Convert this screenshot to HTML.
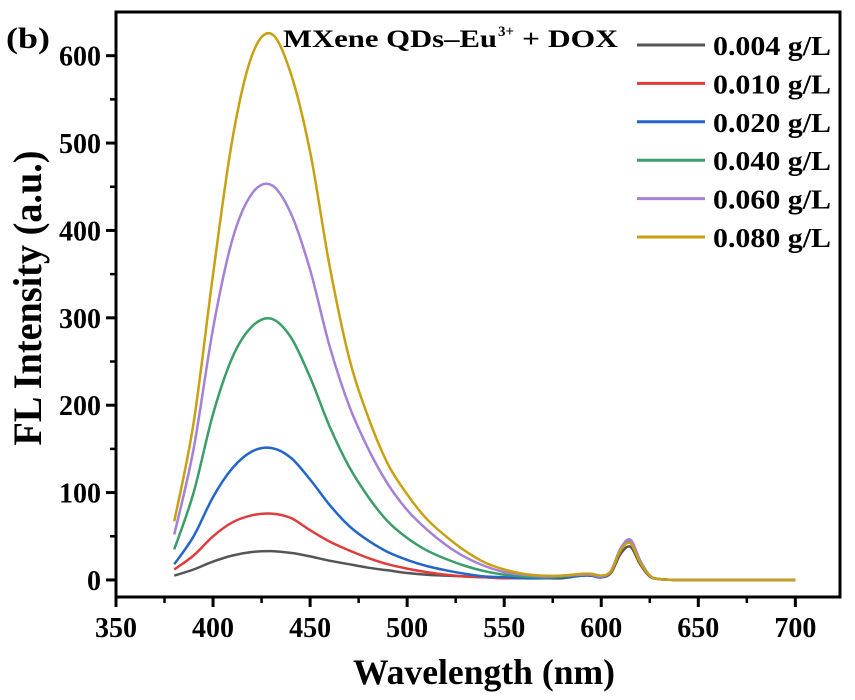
<!DOCTYPE html>
<html><head><meta charset="utf-8"><style>
body{margin:0;background:#fff;}
svg text{font-family:"Liberation Serif",serif;font-weight:bold;fill:#000;}
</style></head><body>
<svg id="chart" width="855" height="695" viewBox="0 0 855 695" xmlns="http://www.w3.org/2000/svg">
<g id="plot"></g>
</svg>
<script>
const wavelengths=[380,390,400,410,420,430,440,450,460,470,480,490,500,510,520,530,540,550,560,570,580,590,595,600,605,610,615,620,625,630,640,650,675,700];
const seriesLabels=["0.004 g/L","0.010 g/L","0.020 g/L","0.040 g/L","0.060 g/L","0.080 g/L"];
const seriesColors=["#555555","#e03c3c","#2166c8","#3a9e68","#a67fd6","#c9a012"];
const s004=[5,12,21,28,32,33,31,27,22,18,14,11,8,6,5,4,3,2,2,2,2,5,5,3,8,30,38,18,4,1,0,0,0,0];
const s010=[12,28,50,66,74,76,71,57,44,34,25,18,13,9,6,4,3,2,2,2,3,5,5,3,10,35,46,22,5,1,0,0,0,0];
const s020=[18,50,95,128,147,151,140,115,86,62,45,32,23,16,11,7,4,3,2,2,3,5,5,3,10,36,45,22,5,1,0,0,0,0];
const s040=[35,100,190,255,290,299,278,232,176,130,95,67,48,34,24,16,10,6,4,3,4,6,6,4,10,36,45,22,5,1,0,0,0,0];
const s060=[52,150,288,390,442,452,420,355,268,200,150,110,80,58,40,26,16,9,6,4,5,6,6,4,10,36,46,22,5,1,0,0,0,0];
const s080=[67,180,350,505,600,625,580,490,360,255,186,133,98,70,50,33,20,12,7,5,5,7,7,5,10,34,42,20,5,1,0,0,0,0];
const seriesValues=[s004,s010,s020,s040,s060,s080];
const xTicks=[350,400,450,500,550,600,650,700];
const yTicks=[0,100,200,300,400,500,600];

const L=116,R=840,T=12,B=597;
const xMin=350,xMax=723,yMin=-19.5,yMax=650;
const xs=v=>L+(v-xMin)/(xMax-xMin)*(R-L);
const ys=v=>B-(v-yMin)/(yMax-yMin)*(B-T);
const NS="http://www.w3.org/2000/svg";
const g=document.getElementById('plot');
function mk(tag,attrs,parent){const e=document.createElementNS(NS,tag);for(const k in attrs)e.setAttribute(k,attrs[k]);(parent||g).appendChild(e);return e;}

function smooth(pts){let d="M"+pts[0][0]+","+pts[0][1];
 for(let i=0;i<pts.length-1;i++){const p0=pts[i-1]||pts[i],p1=pts[i],p2=pts[i+1],p3=pts[i+2]||p2;
  const c1x=p1[0]+(p2[0]-p0[0])/6,c1y=p1[1]+(p2[1]-p0[1])/6,c2x=p2[0]-(p3[0]-p1[0])/6,c2y=p2[1]-(p3[1]-p1[1])/6;
  d+=" C"+c1x.toFixed(1)+","+c1y.toFixed(1)+" "+c2x.toFixed(1)+","+c2y.toFixed(1)+" "+p2[0].toFixed(1)+","+p2[1].toFixed(1);}
 return d;}

seriesValues.forEach((vals,si)=>{
 const pts=wavelengths.map((w,i)=>[xs(w),ys(vals[i])]);
 const p=mk('path',{d:smooth(pts),fill:'none',stroke:seriesColors[si],'stroke-width':2.5,'stroke-linejoin':'round'});
 
 
});

const frame=mk('rect',{x:L,y:T,width:R-L,height:B-T,fill:'none',stroke:'#000','stroke-width':3});



xTicks.forEach(t=>{
 const x=xs(t);
 mk('line',{x1:x,y1:B,x2:x,y2:B+10,stroke:'#000','stroke-width':3});
 const xm=xs(t+25);if(t+25<xMax)mk('line',{x1:xm,y1:B,x2:xm,y2:B+6,stroke:'#000','stroke-width':2.5});
 const s=String(t);
 const tx=mk('text',{x:x,y:B+40,'text-anchor':'middle','font-size':28,textLength:s.length*14,lengthAdjust:'spacingAndGlyphs'});
 tx.textContent=s;
 
 
});
yTicks.forEach(t=>{
 const y=ys(t);
 mk('line',{x1:L-10,y1:y,x2:L,y2:y,stroke:'#000','stroke-width':3});
 const ym=ys(t+50);if(t+50<yMax)mk('line',{x1:L-6,y1:ym,x2:L,y2:ym,stroke:'#000','stroke-width':2.5});
 const s=String(t);
 const tx=mk('text',{x:L-15,y:y+10,'text-anchor':'end','font-size':28,textLength:s.length*14,lengthAdjust:'spacingAndGlyphs'});
 tx.textContent=s;
 
 
});

const xl=mk('text',{x:484,y:684,'text-anchor':'middle','font-size':36,textLength:262,lengthAdjust:'spacingAndGlyphs'});
xl.textContent="Wavelength (nm)";


const yl=mk('text',{x:0,y:0,'text-anchor':'middle','font-size':40,textLength:295,lengthAdjust:'spacingAndGlyphs',transform:'translate(41,298) rotate(-90)'});
yl.textContent="FL Intensity (a.u.)";


const pl=mk('text',{x:6,y:48,'font-size':30,textLength:44,lengthAdjust:'spacingAndGlyphs'});
pl.textContent="(b)";



const t1=mk('text',{x:283,y:47,'font-size':25,textLength:214,lengthAdjust:'spacingAndGlyphs'});
t1.textContent="MXene QDs–Eu";


const t2=mk('text',{x:498,y:36,'font-size':15});
t2.textContent="3+";


const t3=mk('text',{x:522,y:47,'font-size':25,textLength:96,lengthAdjust:'spacingAndGlyphs'});
t3.textContent="+ DOX";



seriesLabels.forEach((lab,i)=>{
 const y=45+i*38.4;
 const ln=mk('line',{x1:637,y1:y,x2:705,y2:y,stroke:seriesColors[i],'stroke-width':3});
 
 
 const tx=mk('text',{x:713,y:y+10,'font-size':27,textLength:118,lengthAdjust:'spacingAndGlyphs'});
 tx.textContent=lab;
 
 
});
</script>
</body></html>
